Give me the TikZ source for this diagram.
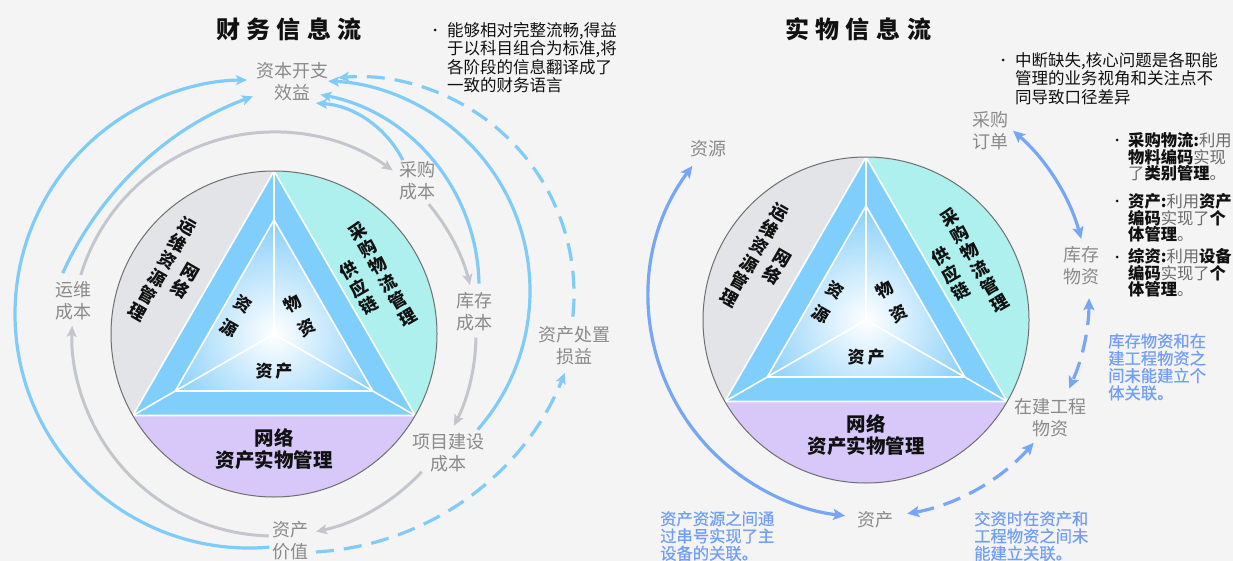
\documentclass[tikz,border=0pt]{standalone}
\usepackage{fontspec}
\setmainfont{Noto Sans CJK SC}
\newfontfamily\medfont{Noto Sans CJK SC}[FakeBold=0.6]
\usetikzlibrary{arrows.meta,calc}
\definecolor{bgc}{HTML}{F4F4F4}
\definecolor{secgray}{HTML}{E2E4E8}
\definecolor{seccyan}{HTML}{ADF0EE}
\definecolor{secpurple}{HTML}{D8C8F9}
\definecolor{bandc}{HTML}{80CEFC}
\definecolor{innerblue}{HTML}{88CFFA}
\definecolor{rimc}{HTML}{6F6F6F}
\definecolor{arrgray}{HTML}{C3C7CD}
\definecolor{arrblue}{HTML}{80CBF7}
\definecolor{arrbluetwo}{HTML}{77A6F7}
\definecolor{labgray}{HTML}{8A8A8A}
\definecolor{noteblue}{HTML}{729FF5}
\definecolor{txt}{HTML}{111111}
\definecolor{midgray}{HTML}{6A6A6A}
\tikzset{
 sect/.style={font=\fontsize{17.5}{20}\selectfont\bfseries, text=txt, align=center, inner sep=0pt},
 innerlab/.style={font=\fontsize{17}{28}\selectfont\bfseries, text=txt, align=center, inner sep=0pt},
 bottomlab/.style={font=\fontsize{19.5}{22.5}\selectfont\bfseries, text=txt, align=center, inner sep=0pt},
 glabel/.style={font=\fontsize{18}{22}\selectfont, text=labgray, align=center, inner sep=0pt},
 note/.style={font=\fontsize{16.5}{18.4}\selectfont, text=txt, align=left, inner sep=0pt, anchor=west},
 listnote/.style={font=\fontsize{16.3}{16.6}\selectfont, text=txt, align=left, inner sep=0pt, anchor=west},
 bnote/.style={font=\medfont\fontsize{16.3}{17.3}\selectfont, text=noteblue, align=left, inner sep=0pt, anchor=west},
 titlelab/.style={font=\fontsize{24}{28}\selectfont\bfseries, text=txt, inner sep=0pt},
 wline/.style={draw=white, line width=1.6pt},
 rim/.style={draw=rimc, line width=1pt},
 garr/.style={draw=arrgray, line width=3pt, -{Stealth[length=11pt,width=10pt,inset=2.5pt]}},
 barr/.style={draw=arrblue, line width=3.2pt, -{Stealth[length=11pt,width=10pt,inset=2.5pt]}},
 bdash/.style={dash pattern=on 18pt off 10pt},
 rarr/.style={draw=arrbluetwo, line width=3.2pt, {Stealth[length=12pt,width=11pt,inset=2.5pt]}-{Stealth[length=12pt,width=11pt,inset=2.5pt]}},
 dotb/.style={circle, fill=txt, inner sep=0pt, minimum size=3pt},
}
\newcommand{\wheel}[2]{%
  \coordinate (#2top) at ($(#1)+(90:163)$);
  \coordinate (#2bl) at ($(#1)+(210:163)$);
  \coordinate (#2br) at ($(#1)+(330:163)$);
  \coordinate (#2itop) at ($(#1)+(90:114)$);
  \coordinate (#2ibl) at ($(#1)+(210:114)$);
  \coordinate (#2ibr) at ($(#1)+(330:114)$);
  \fill[secgray] (#2top) arc[start angle=90,end angle=210,radius=163] -- cycle;
  \fill[seccyan] (#2top) arc[start angle=90,end angle=-30,radius=163] -- cycle;
  \fill[secpurple] (#2bl) arc[start angle=210,end angle=330,radius=163] -- cycle;
  \fill[bandc] (#2top) -- (#2bl) -- (#2br) -- cycle;
  \begin{scope}
    \clip (#2itop) -- (#2ibl) -- (#2ibr) -- cycle;
    \shade[inner color=white,outer color=innerblue] (#1) circle[radius=114];
  \end{scope}
  \draw[wline] (#2top) -- (#2bl) -- (#2br) -- cycle;
  \draw[wline] (#2itop) -- (#2ibl) -- (#2ibr) -- cycle;
  \draw[wline] (#1) -- (#2top) (#1) -- (#2bl) (#1) -- (#2br);
  \draw[rim] (#1) circle[radius=163];
  \node[sect, rotate=-30] (#2la) at ($(#1)+(-112,65)$) {运\\维\\资\\源\\管\\理};
  \node[sect, rotate=-30] (#2lb) at ($(#1)+(-89,53)$) {网\\络};
  \node[sect, rotate=30] (#2ra) at ($(#1)+(109,60)$) {采\\购\\物\\流\\管\\理};
  \node[sect, rotate=30] (#2rb) at ($(#1)+(85,46)$) {供\\应\\链};
  \node[innerlab, rotate=-30] (#2iz) at ($(#1)+(-38,18)$) {资\\源};
  \node[innerlab, rotate=30] (#2iw) at ($(#1)+(26,18)$) {物\\资};
  \node[innerlab] (#2ic) at ($(#1)+(0,-37)$) {资\hspace{3pt}产};
  \node[bottomlab] (#2bt) at ($(#1)+(0,-115)$) {网络\\资产实物管理};
}
\begin{document}
\begin{tikzpicture}[x=1pt,y=1pt]
\useasboundingbox (0,0) rectangle (1233,-561);
\fill[bgc] (0,0) rectangle (1233,-561);

% ===== left wheel =====
\coordinate (CL) at (274,-334);
\wheel{CL}{L}
\node[titlelab] (t1) at (289,-29) {财\hspace{6.5pt}务\hspace{6.5pt}信\hspace{6.5pt}息\hspace{6.5pt}流};

\node[glabel] (capex) at (292,-82) {资本开支\\效益};
\node[glabel] (cgcb) at (417,-181) {采购\\成本};
\node[glabel] (kccb) at (474,-312) {库存\\成本};
\node[glabel] (xmcb) at (448,-453) {项目建设\\成本};
\node[glabel] (zcjz) at (290,-541) {资产\\价值};
\node[glabel] (ywcb) at (73,-301) {运维\\成本};
\node[glabel] (czsy) at (574,-346) {资产处置\\损益};

% gray cost chain
\coordinate (g1s) at ($(CL)+(163:202)$);
\coordinate (g2s) at ($(CL)+(40:202)$);
\coordinate (g3s) at ($(CL)+(-1:202)$);
\coordinate (g4s) at ($(CL)+(-43:202)$);
\coordinate (g5s) at ($(CL)+(-91.5:202)$);
\draw[garr] (g1s) arc[start angle=163,end angle=54,radius=202];
\draw[garr] (g2s) arc[start angle=40,end angle=14,radius=202];
\draw[garr] (g3s) arc[start angle=-1,end angle=-27,radius=202];
\draw[garr] (g4s) arc[start angle=-43,end angle=-78,radius=202];
\draw[garr] (g5s) arc[start angle=-91.5,end angle=-182.3,radius=202];

% blue arrows to capex
\coordinate (b1s) at ($(249,-314)+(-85:234)$);
\draw[barr] (b1s) arc[start angle=-85,end angle=-269.5,radius=234];
\coordinate (b2s) at ($(368,-411)+(155.7:335)$);
\draw[barr] (b2s) arc[start angle=155.7,end angle=110.1,radius=335];
\coordinate (b3s) at ($(310,-207)+(26.8:104)$);
\draw[barr] (b3s) arc[start angle=26.8,end angle=86.7,radius=104];
\coordinate (b4s) at ($(283,-287)+(1:196)$);
\draw[barr] (b4s) arc[start angle=1,end angle=79,radius=196];
\coordinate (b5s) at ($(320,-291)+(-41.3:210)$);
\draw[barr] (b5s) arc[start angle=-41.3,end angle=87.8,radius=210];
\coordinate (d1s) at ($(357,-294)+(-6:217)$);
\draw[barr,bdash] (d1s) arc[start angle=-6,end angle=95,radius=217];
\coordinate (d2s) at ($(299,-266)+(-86.6:286.5)$);
\draw[barr,bdash] (d2s) arc[start angle=-86.6,end angle=-21.9,radius=286.5];

% left note
\node[dotb] (ld) at (435,-30) {};
\node[note] (ln) at (447,-57.7) {能够相对完整流畅,得益\\于以科目组合为标准,将\\各阶段的信息翻译成了\\一致的财务语言};

% ===== right wheel =====
\coordinate (CR) at (866,-320);
\wheel{CR}{R}
\node[titlelab] (t2) at (858,-29) {实\hspace{6.5pt}物\hspace{6.5pt}信\hspace{6.5pt}息\hspace{6.5pt}流};

\node[glabel] (zy) at (708,-149) {资源};
\node[glabel] (cgdd) at (990,-131) {采购\\订单};
\node[glabel] (kcwz) at (1081,-266) {库存\\物资};
\node[glabel] (zjgc) at (1050,-418) {在建工程\\物资};
\node[glabel] (zc) at (875,-520) {资产};

\coordinate (RC) at (869,-297);
\coordinate (r1s) at ($(RC)+(143.4:220)$);
\coordinate (r2s) at ($(RC)+(49.1:220)$);
\coordinate (r3s) at ($(RC)+(-0.3:220)$);
\coordinate (r4s) at ($(RC)+(-41.5:220)$);
\draw[rarr] (r1s) arc[start angle=143.4,end angle=263.8,radius=220];
\draw[rarr] (r2s) arc[start angle=49.1,end angle=15.3,radius=220];
\draw[rarr,bdash] (r3s) arc[start angle=-0.3,end angle=-24.6,radius=220];
\draw[rarr,bdash] (r4s) arc[start angle=-41.5,end angle=-80,radius=220];

\node[dotb] (rd) at (1003,-60) {};
\node[note] (rn) at (1015,-78.5) {中断缺失,核心问题是各职能\\管理的业务视角和关注点不\\同导致口径差异};

\node[dotb] (d1) at (1117,-140) {};
\node[listnote] (l1) at (1128,-157) {\textbf{采购物流:}{\color{midgray}利用}\\\textbf{物料编码}{\color{midgray}实现}\\{\color{midgray}了}\textbf{类别管理}{\color{midgray}。}};
\node[dotb] (d2) at (1117,-201) {};
\node[listnote] (l2) at (1128,-218) {\textbf{资产:}{\color{midgray}利用}\textbf{资产}\\\textbf{编码}{\color{midgray}实现了}\textbf{个}\\\textbf{体管理}{\color{midgray}。}};
\node[dotb] (d3) at (1117,-257) {};
\node[listnote] (l3) at (1128,-273) {\textbf{综资:}{\color{midgray}利用}\textbf{设备}\\\textbf{编码}{\color{midgray}实现了}\textbf{个}\\\textbf{体管理}{\color{midgray}。}};

\node[bnote] (n1) at (1108,-367) {库存物资和在\\建工程物资之\\间未能建立个\\体关联。};
\node[bnote] (n2) at (660,-536) {资产资源之间通\\过串号实现了主\\设备的关联。};
\node[bnote] (n3) at (974,-536) {交资时在资产和\\工程物资之间未\\能建立关联。};
\end{tikzpicture}
\end{document}
